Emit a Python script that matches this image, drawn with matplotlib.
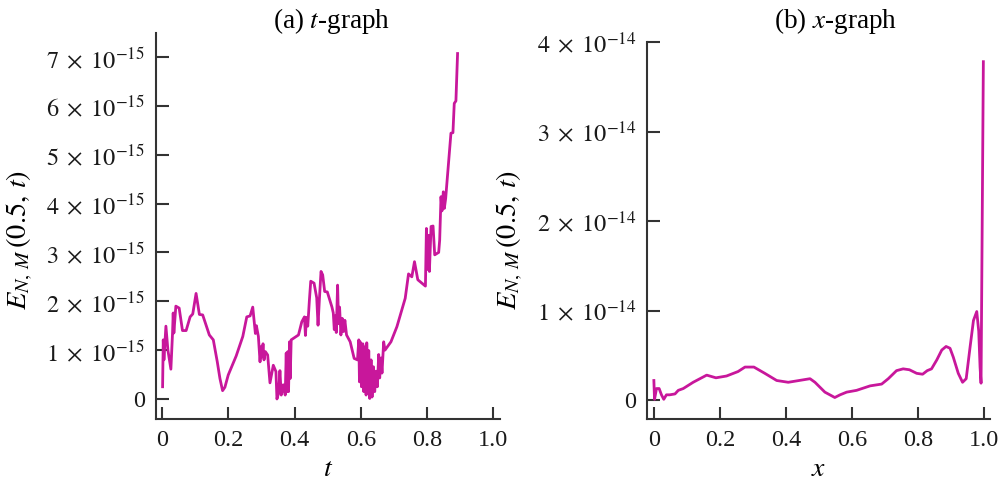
import matplotlib
matplotlib.use("Agg")
import matplotlib.pyplot as plt
from matplotlib.ticker import FuncFormatter

plt.rcParams['font.family'] = ['Liberation Serif', 'DejaVu Serif']
plt.rcParams['mathtext.fontset'] = 'stix'

# (a) error along t at x = 0.5, in units of 1e-15
t_vals = [0.002, 0.004, 0.006, 0.012, 0.018, 0.027, 0.032, 0.034, 0.036, 0.042, 0.052,
          0.062, 0.073, 0.085, 0.093, 0.103, 0.113, 0.123, 0.143, 0.155, 0.167, 0.175,
          0.183, 0.190, 0.200, 0.224, 0.244, 0.256, 0.266, 0.274, 0.282, 0.285, 0.291,
          0.296, 0.299, 0.302, 0.305, 0.308, 0.312, 0.319, 0.326, 0.336, 0.344, 0.347,
          0.352, 0.356, 0.360, 0.366, 0.372, 0.375, 0.377, 0.380, 0.382, 0.385, 0.387,
          0.390, 0.412, 0.422, 0.430, 0.433, 0.436, 0.440, 0.445, 0.449, 0.459, 0.467,
          0.471, 0.475, 0.480, 0.485, 0.491, 0.499, 0.513, 0.517, 0.520, 0.523, 0.526,
          0.530, 0.533, 0.536, 0.540, 0.544, 0.548, 0.552, 0.557, 0.568, 0.580, 0.590,
          0.594, 0.596, 0.598, 0.602, 0.606, 0.609, 0.613, 0.616, 0.618, 0.621, 0.624,
          0.627, 0.631, 0.634, 0.638, 0.642, 0.646, 0.650, 0.654, 0.657, 0.661, 0.664,
          0.669, 0.673, 0.691, 0.709, 0.734, 0.744, 0.754, 0.762, 0.772, 0.795, 0.798,
          0.801, 0.804, 0.807, 0.812, 0.818, 0.823, 0.835, 0.838, 0.842, 0.845, 0.849,
          0.852, 0.856, 0.865, 0.872, 0.878, 0.882, 0.887, 0.892]
t_err = [0.25, 1.21, 0.80, 1.49, 1.00, 0.61, 1.35, 1.76, 1.35, 1.90, 1.86,
         1.40, 1.40, 1.68, 1.74, 2.16, 1.73, 1.72, 1.31, 1.21, 0.76, 0.42,
         0.17, 0.24, 0.49, 0.88, 1.28, 1.68, 1.70, 1.88, 1.34, 1.50, 1.28,
         0.76, 1.07, 0.86, 1.13, 0.80, 0.97, 0.90, 0.33, 0.69, 0.56, 0.00,
         0.12, 0.58, 0.08, 0.29, 0.08, 0.94, 0.15, 0.97, 0.15, 1.17, 0.42,
         1.21, 1.31, 1.58, 1.68, 1.30, 1.67, 1.49, 2.03, 2.41, 2.37, 2.07,
         1.51, 2.03, 2.61, 2.54, 2.20, 2.19, 1.88, 1.76, 1.42, 1.70, 1.36,
         2.33, 1.54, 1.88, 1.31, 1.65, 1.38, 1.61, 1.31, 1.17, 0.83, 0.80,
         1.21, 0.35, 1.17, 0.25, 1.13, 0.15, 1.07, 0.08, 1.15, 0.12, 0.99,
         0.01, 0.80, 0.04, 0.66, 0.15, 0.57, 0.25, 0.91, 0.43, 0.84, 0.53,
         1.17, 1.00, 1.17, 1.48, 2.06, 2.56, 2.50, 2.81, 2.44, 2.31, 3.49,
         2.65, 3.35, 2.61, 3.53, 3.54, 2.95, 3.00, 3.25, 4.14, 3.85, 4.24,
         3.90, 4.10, 4.86, 5.44, 5.45, 6.05, 6.10, 7.07]

# (b) error along x at t = 0.5, in units of 1e-14
x_vals = [0.000, 0.002, 0.008, 0.016, 0.023, 0.030, 0.038, 0.048, 0.064, 0.074,
          0.089, 0.119, 0.160, 0.188, 0.220, 0.255, 0.276, 0.303, 0.336, 0.372,
          0.407, 0.440, 0.473, 0.488, 0.518, 0.548, 0.564, 0.584, 0.614, 0.655,
          0.690, 0.710, 0.735, 0.755, 0.774, 0.796, 0.814, 0.828, 0.841, 0.857,
          0.872, 0.885, 0.897, 0.907, 0.922, 0.935, 0.946, 0.958, 0.968, 0.978,
          0.984, 0.988, 0.991, 0.998]
x_err = [0.22, 0.01, 0.13, 0.13, 0.06, 0.01, 0.06, 0.06, 0.07, 0.11,
         0.13, 0.20, 0.28, 0.25, 0.27, 0.32, 0.37, 0.37, 0.30, 0.22,
         0.20, 0.22, 0.24, 0.20, 0.09, 0.03, 0.06, 0.09, 0.11, 0.16,
         0.18, 0.24, 0.33, 0.35, 0.34, 0.30, 0.29, 0.33, 0.35, 0.45,
         0.56, 0.60, 0.58, 0.48, 0.30, 0.20, 0.24, 0.60, 0.89, 0.99,
         0.77, 0.37, 0.19, 3.78]

line_color = '#C8179B'
spine_color = '#333333'
xticks = [0, 0.2, 0.4, 0.6, 0.8, 1.0]
xtick_labels = ['0', '0.2', '0.4', '0.6', '0.8', '1.0']


def sci_fmt(exp):
    def f(v, pos):
        m = int(round(v / 10.0 ** exp))
        if m == 0:
            return '0'
        return r'$%d\;\times\;10^{%d}$' % (m, exp)
    return FuncFormatter(f)


def style(ax):
    for s in ['top', 'right']:
        ax.spines[s].set_visible(False)
    for s in ['left', 'bottom']:
        ax.spines[s].set_color(spine_color)
        ax.spines[s].set_linewidth(1.5)
    ax.tick_params(direction='in', length=9, width=1.5, color=spine_color,
                   labelsize=17.5, labelcolor='#1a1a1a')
    ax.tick_params(axis='x', pad=8)
    ax.tick_params(axis='y', pad=8)
    ax.set_xticks(xticks)
    ax.set_xticklabels(xtick_labels)


fig = plt.figure(figsize=(10.03, 4.82), dpi=100)

ax1 = fig.add_axes([0.1555, 0.1307, 0.343, 0.8008])
ax1.plot(t_vals, [v * 1e-15 for v in t_err], color=line_color, lw=2.0)
ax1.set_xlim(-0.018, 1.02)
ax1.set_ylim(-0.41e-15, 7.49e-15)
ax1.set_yticks([i * 1e-15 for i in range(8)])
ax1.yaxis.set_major_formatter(sci_fmt(-15))
style(ax1)
ax1.set_xlabel(r'$t$', fontsize=20)
ax1.set_ylabel(r'$E_{N,\,M}\,(0.5,\,t)$', fontsize=20.5)
ax1.yaxis.set_label_coords((35 - 156) / 344, 0.465)

ax2 = fig.add_axes([0.645, 0.1307, 0.342, 0.7822])
ax2.plot(x_vals, [v * 1e-14 for v in x_err], color=line_color, lw=2.0)
ax2.set_xlim(-0.021, 1.018)
ax2.set_ylim(-0.21e-14, 4.0e-14)
ax2.set_yticks([i * 1e-14 for i in range(5)])
ax2.yaxis.set_major_formatter(sci_fmt(-14))
style(ax2)
ax2.set_xlabel(r'$x$', fontsize=20)
ax2.set_ylabel(r'$E_{N,\,M}\,(0.5,\,t)$', fontsize=20.5)
ax2.yaxis.set_label_coords((525 - 647) / 343, 0.475)

fig.text(331 / 1003, 1 - 28 / 482, r'(a) $t$-graph', ha='center', va='baseline', fontsize=19.5)
fig.text(835 / 1003, 1 - 28 / 482, r'(b) $x$-graph', ha='center', va='baseline', fontsize=19.5)

fig.savefig('out.png', dpi=100)
